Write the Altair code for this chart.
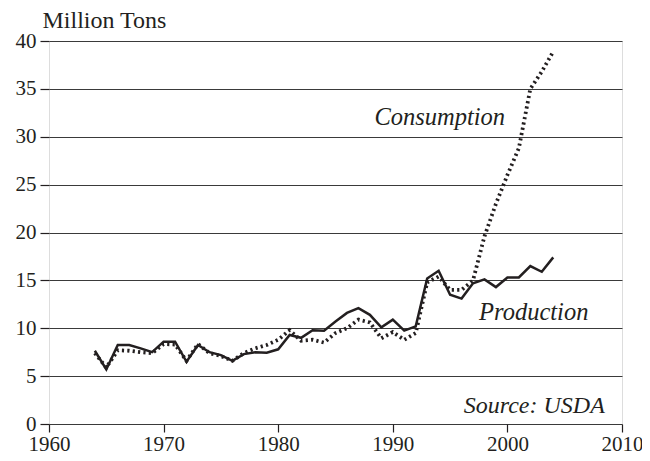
import altair as alt
import pandas as pd

# ---- data ----
years = list(range(1964, 2005))
production = [7.65, 5.7, 8.25, 8.25, 7.9, 7.5, 8.6, 8.6, 6.5, 8.25,
              7.5, 7.2, 6.6, 7.3, 7.5, 7.45, 7.8, 9.3, 9.0, 9.8,
              9.75, 10.7, 11.6, 12.1, 11.4, 10.1, 10.9, 9.75, 10.2, 15.2,
              16.0, 13.5, 13.1, 14.7, 15.1, 14.3, 15.3, 15.3, 16.5, 15.9,
              17.4]
consumption = [7.4, 5.9, 7.7, 7.65, 7.5, 7.4, 8.35, 8.3, 6.6, 8.35,
               7.4, 7.1, 6.6, 7.4, 7.9, 8.25, 8.8, 9.8, 8.7, 8.8,
               8.5, 9.5, 10.0, 10.9, 10.6, 8.95, 9.6, 8.8, 9.5, 14.8,
               15.4, 14.0, 14.0, 15.0, 19.6, 23.0, 26.0, 28.8, 35.0, 36.8,
               38.9]

x_ticks = [1960, 1970, 1980, 1990, 2000, 2010]
y_ticks = [0, 5, 10, 15, 20, 25, 30, 35, 40]

series_labels = ["Consumption", "Production"]
series_label_x = [1994.1, 2002.3]
series_label_y = [31.2, 10.86]

source_label = ["Source: USDA"]
source_label_x = [2008.5]
source_label_y = [1.18]

INK = "#231f20"
FONT = "Liberation Serif, Times New Roman, serif"

prod_df = pd.DataFrame({"year": years, "value": production})
cons_df = pd.DataFrame({"year": years, "value": consumption})
lab_df = pd.DataFrame({"year": series_label_x, "value": series_label_y, "text": series_labels})
src_df = pd.DataFrame({"year": source_label_x, "value": source_label_y, "text": source_label})

x_scale = alt.Scale(domain=[1960, 2010], nice=False, zero=False)
y_scale = alt.Scale(domain=[0, 40], nice=False, zero=True)

x_axis = alt.Axis(values=x_ticks, format="d", title=None, grid=False, domain=False,
                  tickSize=8, tickColor=INK, tickWidth=1.2, labelPadding=1,
                  labelFlush=False, labelOverlap=False,
                  labelFont=FONT, labelFontSize=21, labelColor=INK)
y_axis = alt.Axis(values=y_ticks, title="Million Tons", titleAngle=0, titleX=-7, titleY=-14,
                  titleAlign="left", titleBaseline="alphabetic", titleFont=FONT,
                  titleFontSize=24, titleFontWeight="normal", titleColor=INK,
                  grid=True, gridColor="#3a3a3a", gridWidth=1.1, domain=False,
                  tickSize=9, tickColor=INK, tickWidth=1.2, labelPadding=4,
                  labelFlush=False, labelOverlap=False,
                  labelFont=FONT, labelFontSize=21, labelColor=INK)

X = alt.X("year:Q", scale=x_scale, axis=x_axis)
Y = alt.Y("value:Q", scale=y_scale, axis=y_axis)
Xn = alt.X("year:Q", scale=x_scale)
Yn = alt.Y("value:Q", scale=y_scale)

prod_line = alt.Chart(prod_df).mark_line(color=INK, strokeWidth=2.5).encode(x=X, y=Y)
cons_line = alt.Chart(cons_df).mark_line(color=INK, strokeWidth=3.8,
                                         strokeDash=[2.2, 3.2], strokeCap="butt").encode(x=Xn, y=Yn)

labels = alt.Chart(lab_df).mark_text(font=FONT, fontStyle="italic", fontSize=24.5, color=INK,
                                     align="center", baseline="alphabetic").encode(
    x=Xn, y=Yn, text="text:N")
source = alt.Chart(src_df).mark_text(font=FONT, fontStyle="italic", fontSize=24, color=INK,
                                     align="right", baseline="alphabetic").encode(
    x=Xn, y=Yn, text="text:N")

chart = alt.layer(prod_line, cons_line, labels, source).properties(
    width=573, height=383,
    autosize=alt.AutoSizeParams(type="none"),
    padding={"left": 41, "top": 33, "right": 20, "bottom": 29},
    background="white",
).configure_view(stroke=INK, strokeWidth=3.4).configure(font=FONT)

chart.save("out.html", embed_options={"renderer": "svg", "actions": False})
